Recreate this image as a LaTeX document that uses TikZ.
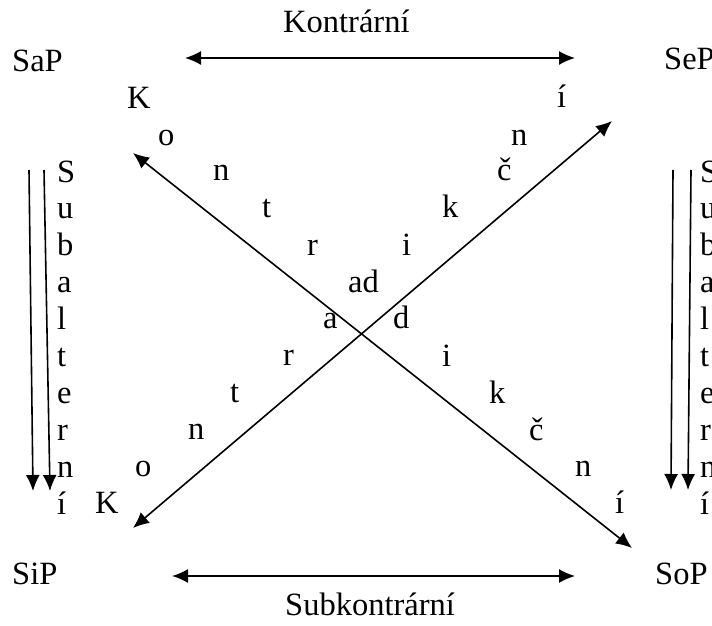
\documentclass[tikz,border=0pt]{standalone}
\usepackage{fontspec}
\setmainfont{Liberation Serif}
\usetikzlibrary{arrows.meta}
\begin{document}
\begin{tikzpicture}[x=1pt,y=-1pt,
  lbl/.style={anchor=base west,inner sep=0pt,font=\fontsize{32.5}{38}\selectfont},
  conn/.style={line width=1.6pt,{Latex[length=16pt,width=14pt]}-{Latex[length=16pt,width=14pt]}},
  down/.style={line width=1.6pt,-{Latex[length=16pt,width=14pt]}}]
\useasboundingbox (0,0) rectangle (712,626);
% corner labels
\node[lbl] (sap) at (12,71) {SaP};
\node[lbl] (sep) at (664,70) {SeP};
\node[lbl] (sip) at (12,584) {SiP};
\node[lbl] (sop) at (655,584) {SoP};
\node[lbl] (kontr) at (283,33) {Kontrární};
\node[lbl] (subk) at (285,615) {Subkontrární};
% connector end points
\coordinate (tl) at (185,58);
\coordinate (tr) at (575,58);
\coordinate (bl) at (172,576);
\coordinate (br) at (575,576);
\coordinate (nw) at (133,153);
\coordinate (se) at (632,548);
\coordinate (sw) at (133,528);
\coordinate (ne) at (612,121);
\coordinate (l1a) at (29,170);
\coordinate (l1b) at (33,491);
\coordinate (l2a) at (44,170);
\coordinate (l2b) at (50,491);
\coordinate (r1a) at (673,170);
\coordinate (r1b) at (671,490);
\coordinate (r2a) at (691,170);
\coordinate (r2b) at (688,490);
\draw[conn] (tl) -- (tr);
\draw[conn] (bl) -- (br);
\draw[conn] (nw) -- (se);
\draw[conn] (sw) -- (ne);
\draw[down] (l1a) -- (l1b);
\draw[down] (l2a) -- (l2b);
\draw[down] (r1a) -- (r1b);
\draw[down] (r2a) -- (r2b);
% Subalterní columns
\foreach \ch [count=\i from 0] in {S,u,b,a,l,t,e,r,n,í}{
  \node[lbl] (sl\i) at (57,182+36.9*\i) {\ch};
  \node[lbl] (sr\i) at (700,182+36.9*\i) {\ch};
}
% diagonal letters: NW to SE
\node[lbl] (a0) at (127,108) {K};
\node[lbl] (a1) at (158,145) {o};
\node[lbl] (a2) at (213,180) {n};
\node[lbl] (a3) at (262,217) {t};
\node[lbl] (a4) at (307,255) {r};
\node[lbl] (ad) at (348,292) {ad};
\node[lbl] (a6) at (393,328) {d};
\node[lbl] (a7) at (442,366) {i};
\node[lbl] (a8) at (489,403) {k};
\node[lbl] (a9) at (529,440) {č};
\node[lbl] (a10) at (575,476) {n};
\node[lbl] (a11) at (615,513) {í};
% diagonal letters: SW to NE
\node[lbl] (b0) at (95,513) {K};
\node[lbl] (b1) at (135,476) {o};
\node[lbl] (b2) at (188,439) {n};
\node[lbl] (b3) at (230,402) {t};
\node[lbl] (b4) at (283,365) {r};
\node[lbl] (b5) at (323,328) {a};
\node[lbl] (b7) at (402,255) {i};
\node[lbl] (b8) at (442,217) {k};
\node[lbl] (b9) at (497,180) {č};
\node[lbl] (b10) at (511,145) {n};
\node[lbl] (b11) at (557,107) {í};
\end{tikzpicture}
\end{document}
